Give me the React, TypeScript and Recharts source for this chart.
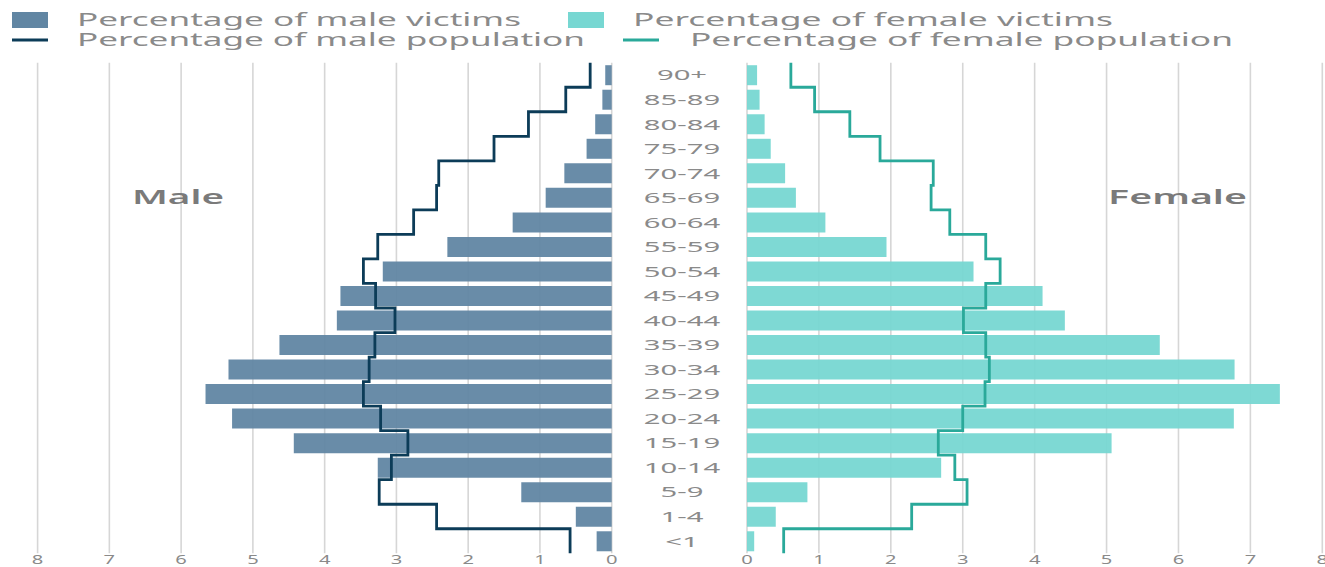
import { Bar, CartesianGrid, ComposedChart, Line, XAxis, YAxis } from "recharts";

const AGES = [
  "90+", "85-89", "80-84", "75-79", "70-74", "65-69", "60-64", "55-59", "50-54", "45-49",
  "40-44", "35-39", "30-34", "25-29", "20-24", "15-19", "10-14", "5-9", "1-4", "<1",
];
const MALE_VICTIMS = [
  0.09, 0.13, 0.23, 0.35, 0.66, 0.92, 1.38, 2.29, 3.19, 3.78,
  3.83, 4.63, 5.34, 5.66, 5.29, 4.43, 3.26, 1.26, 0.5, 0.21,
];
const MALE_POP = [
  0.3, 0.64, 1.16, 1.64, 2.41, 2.44, 2.76, 3.26, 3.46, 3.29,
  3.02, 3.3, 3.38, 3.46, 3.22, 2.84, 3.07, 3.24, 2.44, 0.58,
];
const FEMALE_VICTIMS = [
  0.14, 0.175, 0.245, 0.33, 0.53, 0.68, 1.09, 1.94, 3.15, 4.11,
  4.42, 5.74, 6.78, 7.41, 6.77, 5.07, 2.7, 0.84, 0.4, 0.1,
];
const FEMALE_POP = [
  0.61, 0.94, 1.43, 1.85, 2.59, 2.56, 2.82, 3.32, 3.52, 3.32,
  3.01, 3.32, 3.37, 3.31, 3.0, 2.66, 2.89, 3.06, 2.29, 0.51,
];
const TICKS = [0, 1, 2, 3, 4, 5, 6, 7, 8];

const MALE_BAR = "#6186a3";
const FEMALE_BAR = "#77d7d2";
const MALE_LINE = "#0c3c58";
const FEMALE_LINE = "#2aa99a";
const TEXT = "#8a8a8a";
const FONT = "'Noto Sans', sans-serif";

const data = AGES.map((age, i) => ({
  age,
  maleVictims: MALE_VICTIMS[i],
  malePop: MALE_POP[i],
  femaleVictims: FEMALE_VICTIMS[i],
  femalePop: FEMALE_POP[i],
}));

// step curve that runs vertically through each band, switching at band edges
const stepVertical = (ctx: any) => {
  let pts: number[][] = [];
  return {
    areaStart() {},
    areaEnd() {},
    lineStart() {
      pts = [];
    },
    point(x: number, y: number) {
      pts.push([+x, +y]);
    },
    lineEnd() {
      const n = pts.length;
      if (!n) return;
      if (n === 1) {
        ctx.moveTo(pts[0][0], pts[0][1]);
        return;
      }
      const h0 = (pts[1][1] - pts[0][1]) / 2;
      ctx.moveTo(pts[0][0], pts[0][1] - h0);
      for (let i = 0; i < n - 1; i++) {
        const mid = (pts[i][1] + pts[i + 1][1]) / 2;
        ctx.lineTo(pts[i][0], mid);
        ctx.lineTo(pts[i + 1][0], mid);
      }
      const hn = (pts[n - 1][1] - pts[n - 2][1]) / 2;
      ctx.lineTo(pts[n - 1][0], pts[n - 1][1] + hn);
    },
  };
};

const NumTick = ({ x, y, payload }: any) => (
  <text
    transform={`translate(${x},${y + 10.5}) scale(1.55,1)`}
    textAnchor="middle"
    fontSize={13}
    fontFamily={FONT}
    fill={TEXT}
  >
    {payload.value}
  </text>
);

const AgeTick = ({ x, y, payload }: any) => (
  <text
    transform={`translate(${x - 65},${y + 5.5}) scale(1.95,1)`}
    textAnchor="middle"
    fontSize={15}
    fontFamily={FONT}
    fill={TEXT}
  >
    {payload.value}
  </text>
);

const legendItems = [
  { label: "Percentage of male victims", kind: "box", color: MALE_BAR, sx: 12, tx: 77, tw: 444, y: 20 },
  { label: "Percentage of female victims", kind: "box", color: FEMALE_BAR, sx: 568, tx: 633, tw: 480, y: 20 },
  { label: "Percentage of male population", kind: "line", color: MALE_LINE, sx: 12, tx: 77, tw: 508, y: 40 },
  { label: "Percentage of female population", kind: "line", color: FEMALE_LINE, sx: 623, tx: 690, tw: 543, y: 40 },
];

export default function App() {
  return (
    <div
      style={{
        position: "absolute",
        left: 0,
        top: 0,
        width: 1325,
        height: 567,
        background: "#fff",
        overflow: "hidden",
      }}
    >
      <div style={{ position: "absolute", left: 0, top: 0 }}>
        <ComposedChart
          layout="vertical"
          width={650}
          height={567}
          data={data}
          margin={{ top: 62.7, right: 38.3, bottom: 0, left: 37.6 }}
          barCategoryGap={2.5}
        >
          <CartesianGrid horizontal={false} stroke="#d6d6d6" strokeWidth={1.6} />
          <XAxis
            type="number"
            domain={[0, 8]}
            ticks={TICKS}
            reversed
            height={13.7}
            axisLine={false}
            tickLine={false}
            tickSize={0}
            tickMargin={0}
            tick={<NumTick />}
            interval={0}
          />
          <YAxis type="category" dataKey="age" hide />
          <Bar dataKey="maleVictims" fill={MALE_BAR} fillOpacity={0.95} isAnimationActive={false} />
          <Line
            dataKey="malePop"
            type={stepVertical as any}
            stroke={MALE_LINE}
            strokeWidth={2.8}
            dot={false}
            isAnimationActive={false}
          />
        </ComposedChart>
      </div>
      <div style={{ position: "absolute", left: 611.7, top: 0 }}>
        <ComposedChart
          layout="vertical"
          width={713.3}
          height={567}
          data={data}
          margin={{ top: 62.7, right: 3, bottom: 0, left: 0 }}
          barCategoryGap={2.5}
        >
          <CartesianGrid horizontal={false} stroke="#d6d6d6" strokeWidth={1.6} />
          <XAxis
            type="number"
            domain={[0, 8]}
            ticks={TICKS}
            height={13.7}
            axisLine={false}
            tickLine={false}
            tickSize={0}
            tickMargin={0}
            tick={<NumTick />}
            interval={0}
          />
          <YAxis
            type="category"
            dataKey="age"
            width={135}
            axisLine={false}
            tickLine={false}
            tickSize={0}
            tickMargin={0}
            tick={<AgeTick />}
            interval={0}
          />
          <Bar dataKey="femaleVictims" fill={FEMALE_BAR} fillOpacity={0.95} isAnimationActive={false} />
          <Line
            dataKey="femalePop"
            type={stepVertical as any}
            stroke={FEMALE_LINE}
            strokeWidth={2.8}
            dot={false}
            isAnimationActive={false}
          />
        </ComposedChart>
      </div>
      <svg
        width={1325}
        height={567}
        style={{ position: "absolute", left: 0, top: 0, pointerEvents: "none" }}
      >
        {legendItems.map((it) => (
          <g key={it.label}>
            {it.kind === "box" ? (
              <rect x={it.sx} y={it.y - 8} width={36} height={16} fill={it.color} />
            ) : (
              <rect x={it.sx} y={it.y - 1.5} width={36} height={3} fill={it.color} />
            )}
            <text
              x={it.tx}
              y={it.y + 6}
              fontSize={17.5}
              fontFamily={FONT}
              fill={TEXT}
              textLength={it.tw}
              lengthAdjust="spacingAndGlyphs"
            >
              {it.label}
            </text>
          </g>
        ))}
        <text
          x={132}
          y={204}
          fontSize={19}
          fontWeight={600}
          fontFamily={FONT}
          fill="#7a7a7a"
          textLength={92}
          lengthAdjust="spacingAndGlyphs"
        >
          Male
        </text>
        <text
          x={1108}
          y={204}
          fontSize={19}
          fontWeight={600}
          fontFamily={FONT}
          fill="#7a7a7a"
          textLength={139}
          lengthAdjust="spacingAndGlyphs"
        >
          Female
        </text>
      </svg>
    </div>
  );
}
